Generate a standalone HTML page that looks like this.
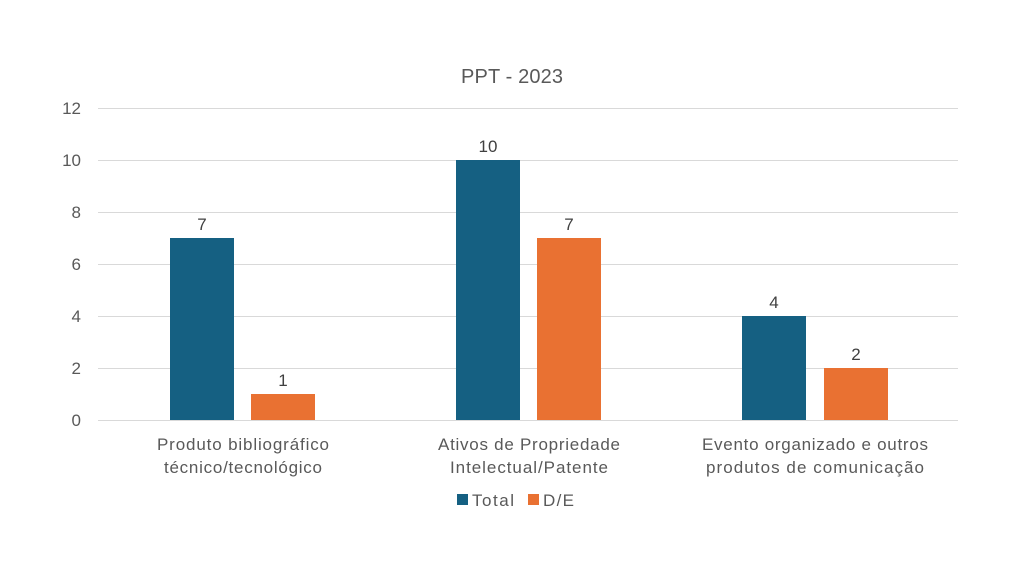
<!DOCTYPE html>
<html><head><meta charset="utf-8"><style>
body{margin:0;background:#fff;}
svg{display:block;font-family:"Liberation Sans",sans-serif;}
</style></head><body>
<svg width="1024" height="576" viewBox="0 0 1024 576">
<rect width="1024" height="576" fill="#fff"/>
<text x="512" y="83" text-anchor="middle" font-size="20" fill="#595959" textLength="102">PPT - 2023</text>
<g stroke="#d9d9d9" stroke-width="1">
<line x1="98" x2="958" y1="108.5" y2="108.5"/>
<line x1="98" x2="958" y1="160.5" y2="160.5"/>
<line x1="98" x2="958" y1="212.5" y2="212.5"/>
<line x1="98" x2="958" y1="264.5" y2="264.5"/>
<line x1="98" x2="958" y1="316.5" y2="316.5"/>
<line x1="98" x2="958" y1="368.5" y2="368.5"/>
<line x1="98" x2="958" y1="420.5" y2="420.5"/>
</g>
<g font-size="17" fill="#595959" text-anchor="end">
<text x="81" y="114">12</text><text x="81" y="166">10</text><text x="81" y="218">8</text>
<text x="81" y="270">6</text><text x="81" y="322">4</text><text x="81" y="374">2</text><text x="81" y="426">0</text>
</g>
<g fill="#156082">
<rect x="170" y="238" width="64" height="182"/>
<rect x="456" y="160" width="64" height="260"/>
<rect x="742" y="316" width="64" height="104"/>
</g>
<g fill="#E97132">
<rect x="251" y="394" width="64" height="26"/>
<rect x="537" y="238" width="64" height="182"/>
<rect x="824" y="368" width="64" height="52"/>
</g>
<g font-size="17" fill="#404040" text-anchor="middle">
<text x="202" y="230">7</text><text x="283" y="386">1</text>
<text x="488" y="152">10</text><text x="569" y="230">7</text>
<text x="774" y="308">4</text><text x="856" y="360">2</text>
</g>
<g font-size="17" fill="#595959" text-anchor="middle">
<text x="243" y="450" textLength="172">Produto bibliográfico</text><text x="243" y="473" textLength="158">técnico/tecnológico</text>
<text x="529" y="450" textLength="182">Ativos de Propriedade</text><text x="529" y="473" textLength="158">Intelectual/Patente</text>
<text x="815" y="450" textLength="226">Evento organizado e outros</text><text x="815" y="473" textLength="218">produtos de comunicação</text>
</g>
<rect x="457" y="494" width="11" height="11" fill="#156082"/>
<text x="472" y="506" font-size="17" fill="#595959" textLength="42">Total</text>
<rect x="528" y="494" width="11" height="11" fill="#E97132"/>
<text x="543" y="506" font-size="17" fill="#595959" textLength="31">D/E</text>
</svg>
</body></html>
